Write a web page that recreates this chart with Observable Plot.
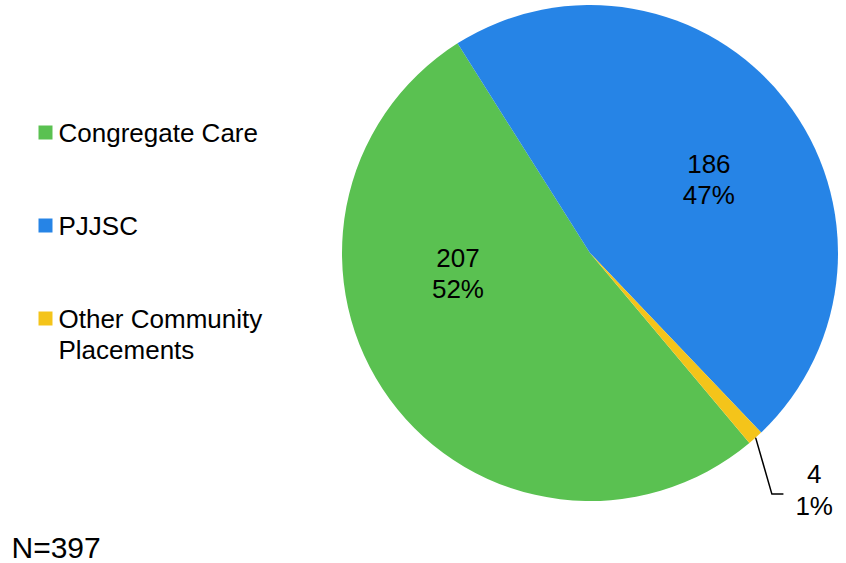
<!DOCTYPE html>
<html><head>
<meta charset="utf-8">
<script src="https://cdn.jsdelivr.net/npm/d3@7"></script>
<script src="https://cdn.jsdelivr.net/npm/@observablehq/plot@0.6"></script>
<style>body{margin:0;background:#fff;font-family:"Liberation Sans",Arial,sans-serif;}</style>
</head><body><div id="chart"></div>
<script>
// ---- data ----
const categories = ["Congregate Care", "PJJSC", "Other Community Placements"];
const counts = [207, 186, 4];
const percentLabels = ["52%", "47%", "1%"];
const legendLines = [["Congregate Care"], ["PJJSC"], ["Other Community", "Placements"]];
const colors = ["#5AC151", "#2684E6", "#F4C41A"];
const totalLabel = "N=397";

// ---- layout ----
const W = 846, H = 563;
const cx = 590, cy = 253, R = 248;
const startDeg = 140;
const FONT = "Liberation Sans, Arial, sans-serif";
// label placement per slice: angle shift from slice mid (deg), radius fraction
const labelPlace = [{shift: 28, rf: 0.54}, {shift: 5.6, rf: 0.565}, {shift: -1.7, rf: 1.31}];
const legend = {xBox: 45, xText: 58, firstBaseline: 141, step: 93, lineGap: 31};

const rad = d => d * Math.PI / 180;
const pie = d3.pie().sort(null).value(d => d.count)
  .startAngle(rad(startDeg)).endAngle(rad(startDeg + 360));
const rows = categories.map((c, i) => ({category: c, count: counts[i], pct: percentLabels[i], color: colors[i]}));
const arcs = pie(rows);
const polar = (a, r) => [cx + r * Math.sin(a), cy - r * Math.cos(a)];

const labels = arcs.map((a, i) => {
  const mid = (a.startAngle + a.endAngle) / 2 + rad(labelPlace[i].shift);
  const [x, y] = polar(mid, R * labelPlace[i].rf);
  return {x, y, text: a.data.count + "\n" + a.data.pct};
});

// leader line for the small slice
const small = arcs[2];
const smallMid = (small.startAngle + small.endAngle) / 2;
const p0 = polar(smallMid, R);
const p1 = polar(smallMid + rad(4.8), R * 1.215);
const leader = [{x: p0[0], y: p0[1]}, {x: p1[0], y: p1[1]}, {x: p1[0] + 11, y: p1[1]}];

// legend rows
const legendBoxes = legendLines.map((l, i) => ({x: legend.xBox, y: legend.firstBaseline + i * legend.step - 9, color: colors[i]}));
const legendTexts = legendLines.flatMap((lines, i) => lines.map((t, j) => ({x: legend.xText, y: legend.firstBaseline + i * legend.step + j * legend.lineGap, text: t})));

const pieMark = (index, scales) => {
  const g = d3.create("svg:g");
  const ox = scales.x(cx), oy = scales.y(cy);
  const rr = scales.x(cx + R) - ox;
  const arcGen = d3.arc().innerRadius(0).outerRadius(rr);
  g.selectAll("path").data(arcs).join("path")
    .attr("transform", `translate(${ox},${oy})`)
    .attr("d", arcGen)
    .attr("fill", d => d.data.color);
  return g.node();
};

const chart = Plot.plot({
  width: W, height: H,
  margin: 0,
  x: {domain: [0, W], range: [0, W], axis: null},
  y: {domain: [0, H], range: [0, H], axis: null},
  style: {fontFamily: FONT, background: "#fff"},
  marks: [
    pieMark,
    Plot.text(labels, {x: "x", y: "y", text: "text", fontSize: 26, lineHeight: 1.2, fill: "#000", textAnchor: "middle", lineAnchor: "middle"}),
    Plot.line(leader, {x: "x", y: "y", stroke: "#000", strokeWidth: 1.5}),
    Plot.dot(legendBoxes, {x: "x", y: "y", symbol: "square", r: 7.9, fill: "color", stroke: null}),
    Plot.text(legendTexts, {x: "x", y: "y", text: "text", fontSize: 26, textAnchor: "start", lineAnchor: "bottom", fill: "#000"}),
    Plot.text([totalLabel], {x: 11, y: 557, text: d => d, fontSize: 30, textAnchor: "start", lineAnchor: "bottom", fill: "#000"})
  ]
});
document.getElementById("chart").appendChild(chart);
</script>
</body></html>
